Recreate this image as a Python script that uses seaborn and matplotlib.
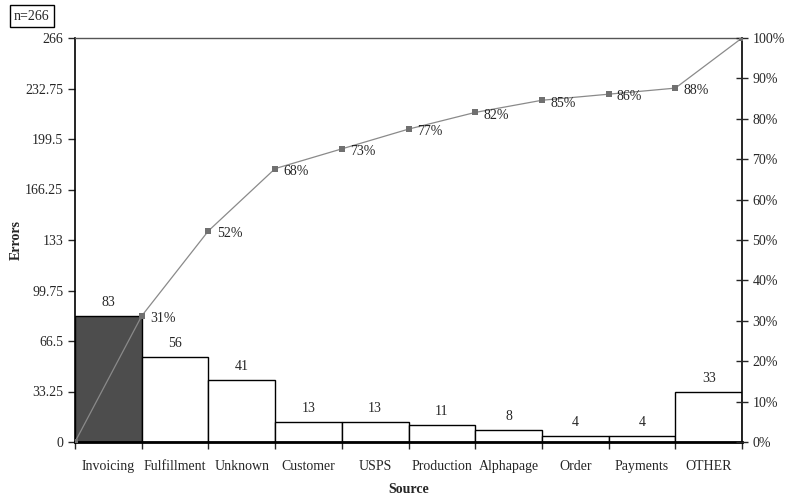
import numpy as np
import pandas as pd
import matplotlib
matplotlib.use("Agg")
import matplotlib.pyplot as plt
import seaborn as sns
from matplotlib.ticker import FixedLocator, FuncFormatter

sns.set_style("white")
plt.rcParams['font.family'] = ['Liberation Serif', 'DejaVu Serif']

# Data
sources = ['Invoicing', 'Fulfillment', 'Unknown', 'Customer', 'USPS',
           'Production', 'Alphapage', 'Order', 'Payments', 'OTHER']
errors = [83, 56, 41, 13, 13, 11, 8, 4, 4, 33]
cum_labels = ['31%', '52%', '68%', '73%', '77%', '82%', '85%', '86%', '88%', '']
bar_colors = ['#4d4d4d'] + ['white'] * 9

total = sum(errors)
df = pd.DataFrame({'source': sources, 'errors': errors})
cum_pct = np.concatenate([[0], np.cumsum(errors) / total])

fig = plt.figure(figsize=(7.92, 4.96), dpi=100)
ax = fig.add_axes([75 / 792, 54 / 496, 667 / 792, 404 / 496])

sns.barplot(data=df, x='source', y='errors', hue='source', palette=bar_colors,
            width=1.0, edgecolor='black', linewidth=1, legend=False, ax=ax)
ax.set_xlim(-0.5, len(sources) - 0.5)
ax.set_ylim(0, total)

for i, v in enumerate(errors):
    ax.annotate(str(v), (i, v), xytext=(0, 5), textcoords='offset points',
                ha='center', va='bottom', fontsize=10)

# left axis ticks
yt = np.arange(0, 9) * total / 8
ax.yaxis.set_major_locator(FixedLocator(yt))
ax.yaxis.set_major_formatter(FuncFormatter(lambda v, p: f"{v:g}"))
ax.tick_params(axis='y', direction='out', length=5, width=1, labelsize=10, left=True)

# x ticks at bar edges, labels at centers
ax.set_xticks(np.arange(len(sources) + 1) - 0.5)
ax.set_xticklabels([])
ax.set_xticks(np.arange(len(sources)), minor=True)
ax.set_xticklabels(sources, minor=True, fontsize=10)
ax.tick_params(axis='x', which='major', direction='out', length=5, width=1, bottom=True)
ax.tick_params(axis='x', which='minor', length=0, pad=13)

ax.set_xlabel('Source', fontsize=10, fontweight='bold', labelpad=7)
ax.set_ylabel('Errors', fontsize=10, fontweight='bold', labelpad=2)

for s in ['left', 'right']:
    ax.spines[s].set_color('black')
    ax.spines[s].set_linewidth(1.2)
ax.spines['bottom'].set_color('black')
ax.spines['bottom'].set_linewidth(2)
ax.spines['top'].set_color('#555555')
ax.spines['top'].set_linewidth(1)

# cumulative percent line
ax2 = ax.twinx()
xs = np.arange(len(sources) + 1) - 0.5
sns.lineplot(x=xs, y=cum_pct, color='#8a8a8a', linewidth=0.9, marker='s',
             markersize=5, markeredgewidth=0, markerfacecolor='#707070', ax=ax2)
ax2.set_ylim(0, 1)
ax2.set_xlim(-0.5, len(sources) - 0.5)
ax2.set_yticks(np.arange(0, 11) / 10)
ax2.yaxis.set_major_formatter(FuncFormatter(lambda v, p: f"{v * 100:.0f}%"))
ax2.tick_params(axis='y', direction='inout', length=8, width=1, labelsize=10, right=True)
for s in ax2.spines.values():
    s.set_visible(False)

for x, y, lab in zip(xs[1:], cum_pct[1:], cum_labels):
    if lab:
        ax2.annotate(lab, (x, y), xytext=(6, -2), textcoords='offset points',
                     ha='left', va='center', fontsize=10)

fig.text(14 / 792, 1 - 16 / 496, 'n=266', fontsize=10, ha='left', va='center',
         bbox=dict(boxstyle='square,pad=0.3', facecolor='white', edgecolor='black', linewidth=1))

fig.savefig('out.png', dpi=100)
